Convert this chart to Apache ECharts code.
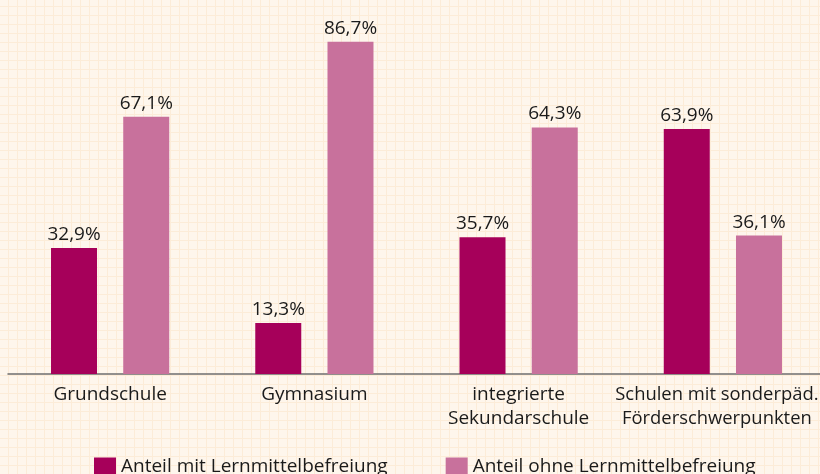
<!DOCTYPE html>
<html>
<head>
<meta charset="utf-8">
<script src="https://cdn.jsdelivr.net/npm/echarts@6/dist/echarts.min.js"></script>
<style>
  html, body { margin: 0; padding: 0; }
  #chart {
    width: 820px; height: 474px;
    background-color: #fef6ec;
    background-image:
      linear-gradient(to right, #fcecd8 1px, transparent 1px),
      linear-gradient(to bottom, #fcecd8 1px, transparent 1px);
    background-size: 9px 9px;
    background-position: 8px 6px;
  }
</style>
</head>
<body>
<div id="chart"></div>
<script>
// Kategorien (Schularten)
var categories = ['Grundschule', 'Gymnasium', 'integrierte\nSekundarschule', 'Schulen mit sonderpäd.\nFörderschwerpunkten'];
// Anteile in %
var mitBefreiung = [32.9, 13.3, 35.7, 63.9];
var ohneBefreiung = [67.1, 86.7, 64.3, 36.1];
var seriesNames = ['Anteil mit Lernmittelbefreiung', 'Anteil ohne Lernmittelbefreiung'];

var chart = echarts.init(document.getElementById('chart'));
var font = '"Open Sans", "Noto Sans", sans-serif';

function pct(p) {
  return p.value.toFixed(1).replace('.', ',') + '%';
}

chart.setOption({
  backgroundColor: 'transparent',
  animation: false,
  grid: {
    left: 8,
    right: -5,
    top: 29,
    bottom: 100,
    containLabel: false,
    outerBoundsMode: 'none'
  },
  legend: {
    bottom: -7,
    left: 89,
    itemWidth: 22,
    itemHeight: 18,
    itemGap: 58,
    icon: 'rect',
    textStyle: { fontFamily: font, fontSize: 19, color: '#1a1a1a' },
    data: seriesNames
  },
  xAxis: {
    type: 'category',
    data: categories,
    axisLine: { lineStyle: { color: '#6e6e6e', width: 1.5 } },
    axisTick: { show: false },
    axisLabel: {
      interval: 0,
      margin: 9,
      fontFamily: font,
      fontSize: 19,
      lineHeight: 24,
      color: '#1a1a1a',
      // letzte Beschriftung etwas schmaler und nach links, damit sie nicht abgeschnitten wird
      formatter: function (v, i) {
        if (i === categories.length - 1) {
          return v.split('\n').map(function (s) { return '{s|' + s + '}'; }).join('\n');
        }
        return v;
      },
      rich: {
        s: { fontFamily: font, fontSize: 18.4, lineHeight: 24, color: '#1a1a1a', padding: [0, 12, 0, 0] }
      }
    }
  },
  yAxis: {
    type: 'value',
    min: 0,
    max: 90,
    show: false,
    splitLine: { show: false }
  },
  series: [
    {
      name: seriesNames[0],
      type: 'bar',
      barWidth: 46,
      barGap: '57%',
      itemStyle: { color: '#a6005a' },
      label: {
        show: true, position: 'top', distance: 4,
        fontFamily: font, fontSize: 19, color: '#1a1a1a',
        formatter: pct
      },
      data: mitBefreiung
    },
    {
      name: seriesNames[1],
      type: 'bar',
      barWidth: 46,
      itemStyle: { color: '#c8719c' },
      label: {
        show: true, position: 'top', distance: 4,
        fontFamily: font, fontSize: 19, color: '#1a1a1a',
        formatter: pct
      },
      data: ohneBefreiung
    }
  ]
});
</script>
</body>
</html>
